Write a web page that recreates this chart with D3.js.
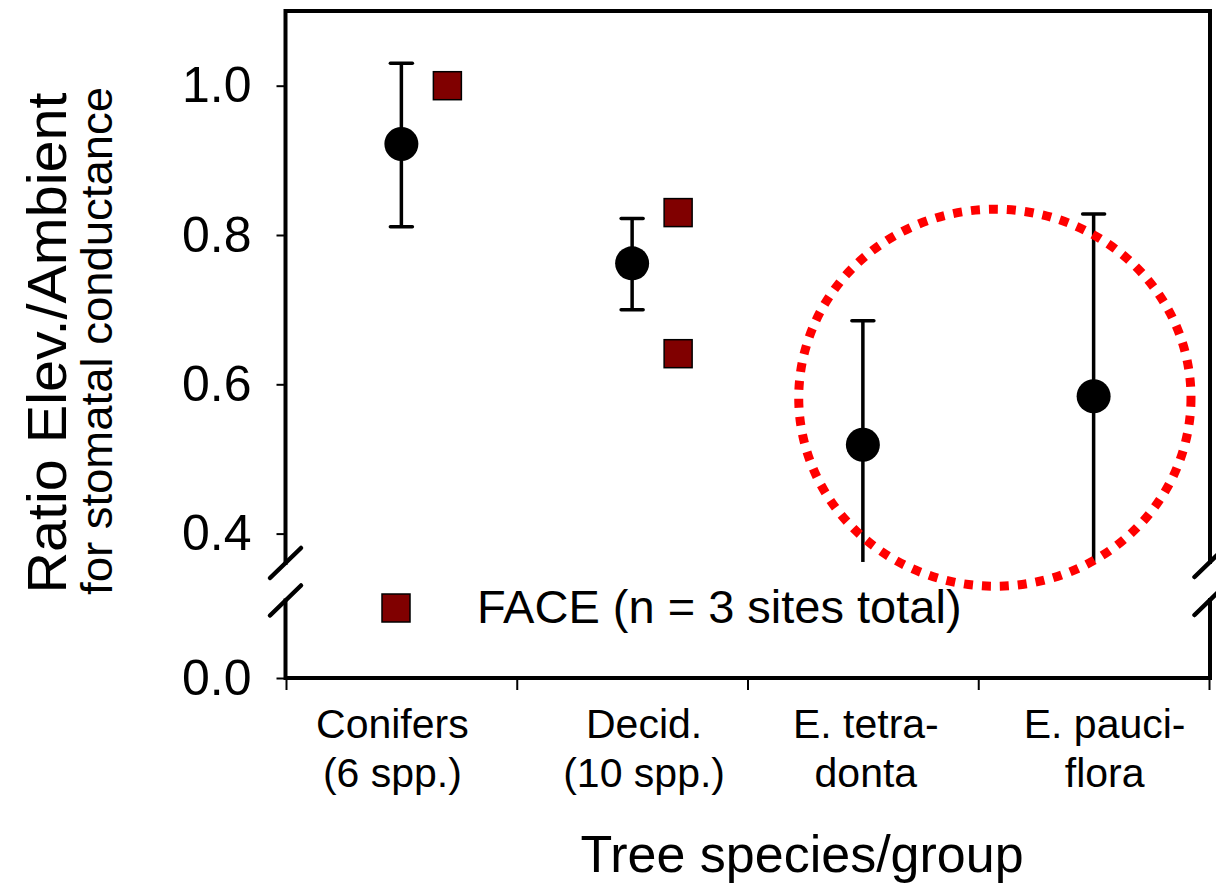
<!DOCTYPE html>
<html>
<head>
<meta charset="utf-8">
<script src="https://cdn.jsdelivr.net/npm/d3@7"></script>
<style>
  body { margin: 0; background: #fff; }
  text { font-family: "Liberation Sans", Arial, sans-serif; fill: #000; }
</style>
</head>
<body>
<svg id="chart" width="1216" height="885"></svg>
<script>
// tree groups along the x axis
var categories = ["Conifers", "Decid.", "E. tetradonta", "E. pauciflora"];
var catLine1 = ["Conifers", "Decid.", "E. tetra-", "E. pauci-"];
var catLine2 = ["(6 spp.)", "(10 spp.)", "donta", "flora"];

// mean ratio elevated/ambient with error bar ends
var meanRatio = [0.922, 0.762, 0.519, 0.584];
var errLow = [0.811, 0.700, 0.30, 0.30];
var errHigh = [1.030, 0.822, 0.685, 0.828];

// FACE sites
var faceCat = ["Conifers", "Decid.", "Decid."];
var faceRatio = [1.0, 0.830, 0.641];

var yTicksUpper = [0.4, 0.6, 0.8, 1.0];
var yTicksLower = [0.0];

var svg = d3.select("#chart");
svg.append("rect").attr("width", 1216).attr("height", 885).attr("fill", "#fff");

var left = 285.5, right = 1210, bottom = 678;

// upper (broken) segment of the y axis
var y = d3.scaleLinear().domain([0.4, 1.0]).range([533.6, 85.7]);
var yTop = 1.1, yBreak = 0.362;
// lower segment only holds 0.0
var yLow = d3.scaleLinear().domain([0, 0.05]).range([bottom, 640]);

var x = d3.scaleBand().domain(categories).range([286, 1209]);
var xPos = d3.scaleLinear().domain([0, 4]).range([286, 1209]);
var faceOffset = 46;
// the labels in the original sit a bit off the group centres
var labelShift = [-9, 12, 3, 11];

// red dotted ring round the eucalypts (in axis units)
var ringCenter = [3.072, 0.582];
var ringRadius = [0.85, 0.2525];

// frame
var frame = d3.path();
frame.moveTo(left, y(yTop)); frame.lineTo(right, y(yTop));
frame.moveTo(left, y(yTop)); frame.lineTo(left, 563);
frame.moveTo(left, 600.5); frame.lineTo(left, bottom);
frame.moveTo(left, bottom); frame.lineTo(right, bottom);
frame.moveTo(right, y(yTop)); frame.lineTo(right, 562);
frame.moveTo(right, 600); frame.lineTo(right, bottom);
svg.append("path")
   .attr("d", frame.toString())
   .attr("fill", "none")
   .attr("stroke", "#000")
   .attr("stroke-width", 4)
   .attr("stroke-linecap", "square");

// break marks
var breaks = [[left, 563], [left, 600.5], [right, 562], [right, 600]];
svg.selectAll(".brk")
   .data(breaks)
   .enter().append("line")
   .attr("x1", function(d) { return d[0] - 15.5; })
   .attr("y1", function(d) { return d[1] + 15; })
   .attr("x2", function(d) { return d[0] + 15.5; })
   .attr("y2", function(d) { return d[1] - 15; })
   .attr("stroke", "#000")
   .attr("stroke-width", 4.5)
   .attr("stroke-linecap", "round");

// y axes
var yAxisUp = svg.append("g")
   .attr("transform", "translate(" + left + ",0)")
   .call(d3.axisLeft(y).tickValues(yTicksUpper).tickFormat(d3.format(".1f")).tickSize(9).tickPadding(25));
var yAxisLow = svg.append("g")
   .attr("transform", "translate(" + left + ",0)")
   .call(d3.axisLeft(yLow).tickValues(yTicksLower).tickFormat(d3.format(".1f")).tickSize(9).tickPadding(25));
[yAxisUp, yAxisLow].forEach(function(g) {
  g.select(".domain").remove();
  g.selectAll(".tick line").attr("stroke", "#000").attr("stroke-width", 2);
  g.selectAll(".tick text")
   .style("font-size", "50px")
   .style("font-family", "'Liberation Sans', Arial, sans-serif");
});

// x axis ticks at group boundaries
var xAxis = svg.append("g")
   .attr("transform", "translate(0," + bottom + ")")
   .call(d3.axisBottom(xPos).tickValues([0, 1, 2, 3, 4]).tickFormat("").tickSize(12));
xAxis.select(".domain").remove();
xAxis.selectAll(".tick line").attr("stroke", "#000").attr("stroke-width", 2);

// category labels
var lab = svg.append("g");
lab.selectAll(".l1")
   .data(categories)
   .enter().append("text")
   .attr("x", function(d, i) { return x(d) + x.bandwidth() / 2 + labelShift[i]; })
   .attr("y", 738)
   .attr("text-anchor", "middle")
   .style("font-size", "41px")
   .text(function(d, i) { return catLine1[i]; });
lab.selectAll(".l2")
   .data(categories)
   .enter().append("text")
   .attr("x", function(d, i) { return x(d) + x.bandwidth() / 2 + labelShift[i]; })
   .attr("y", 787)
   .attr("text-anchor", "middle")
   .style("font-size", "41px")
   .text(function(d, i) { return catLine2[i]; });

// axis titles
svg.append("text")
   .attr("x", 802).attr("y", 872)
   .attr("text-anchor", "middle")
   .style("font-size", "52px")
   .text("Tree species/group");

svg.append("text")
   .attr("transform", "translate(66,343) rotate(-90)")
   .attr("text-anchor", "middle")
   .attr("textLength", 501)
   .attr("lengthAdjust", "spacingAndGlyphs")
   .style("font-size", "55px")
   .text("Ratio Elev./Ambient");
svg.append("text")
   .attr("transform", "translate(112,341) rotate(-90)")
   .attr("text-anchor", "middle")
   .attr("textLength", 508)
   .attr("lengthAdjust", "spacingAndGlyphs")
   .style("font-size", "44px")
   .text("for stomatal conductance");

// error bars
var data = [];
for (var i = 0; i < categories.length; i++) {
  data.push({"cat": categories[i], "mean": meanRatio[i], "lo": errLow[i], "hi": errHigh[i]});
}
var cx = function(d) { return x(d.cat) + x.bandwidth() / 2; };
var pts = svg.append("g");
pts.selectAll(".err")
   .data(data)
   .enter().append("line")
   .attr("x1", cx).attr("x2", cx)
   .attr("y1", function(d) { return y(d.hi); })
   .attr("y2", function(d) { return y(Math.max(d.lo, yBreak)); })
   .attr("stroke", "#000").attr("stroke-width", 3.5);
pts.selectAll(".capHi")
   .data(data)
   .enter().append("line")
   .attr("x1", function(d) { return cx(d) - 11; })
   .attr("x2", function(d) { return cx(d) + 11; })
   .attr("y1", function(d) { return y(d.hi); })
   .attr("y2", function(d) { return y(d.hi); })
   .attr("stroke", "#000").attr("stroke-width", 3.5).attr("stroke-linecap", "round");
pts.selectAll(".capLo")
   .data(data.filter(function(d) { return d.lo >= yBreak; }))
   .enter().append("line")
   .attr("x1", function(d) { return cx(d) - 11; })
   .attr("x2", function(d) { return cx(d) + 11; })
   .attr("y1", function(d) { return y(d.lo); })
   .attr("y2", function(d) { return y(d.lo); })
   .attr("stroke", "#000").attr("stroke-width", 3.5).attr("stroke-linecap", "round");
pts.selectAll("circle")
   .data(data)
   .enter().append("circle")
   .attr("cx", cx)
   .attr("cy", function(d) { return y(d.mean); })
   .attr("r", 17)
   .attr("fill", "#000");

// FACE squares
var sq = 28;
pts.selectAll(".face")
   .data(faceRatio)
   .enter().append("rect")
   .attr("x", function(d, i) { return x(faceCat[i]) + x.bandwidth() / 2 + faceOffset - sq / 2; })
   .attr("y", function(d) { return y(d) - sq / 2; })
   .attr("width", sq).attr("height", sq)
   .attr("fill", "#800000")
   .attr("stroke", "#000").attr("stroke-width", 1.5);

// dotted ring
svg.append("ellipse")
   .attr("cx", xPos(ringCenter[0]))
   .attr("cy", y(ringCenter[1]))
   .attr("rx", xPos(ringCenter[0] + ringRadius[0]) - xPos(ringCenter[0]))
   .attr("ry", y(ringCenter[1] - ringRadius[1]) - y(ringCenter[1]))
   .attr("fill", "none")
   .attr("stroke", "#ff0000")
   .attr("stroke-width", 9)
   .attr("stroke-dasharray", "9,9");

// legend
svg.append("rect")
   .attr("x", 396 - sq / 2).attr("y", 608 - sq / 2)
   .attr("width", sq).attr("height", sq)
   .attr("fill", "#800000")
   .attr("stroke", "#000").attr("stroke-width", 1.5);
svg.append("text")
   .attr("x", 477).attr("y", 623)
   .style("font-size", "47px")
   .text("FACE (n = 3 sites total)");
</script>
</body>
</html>
